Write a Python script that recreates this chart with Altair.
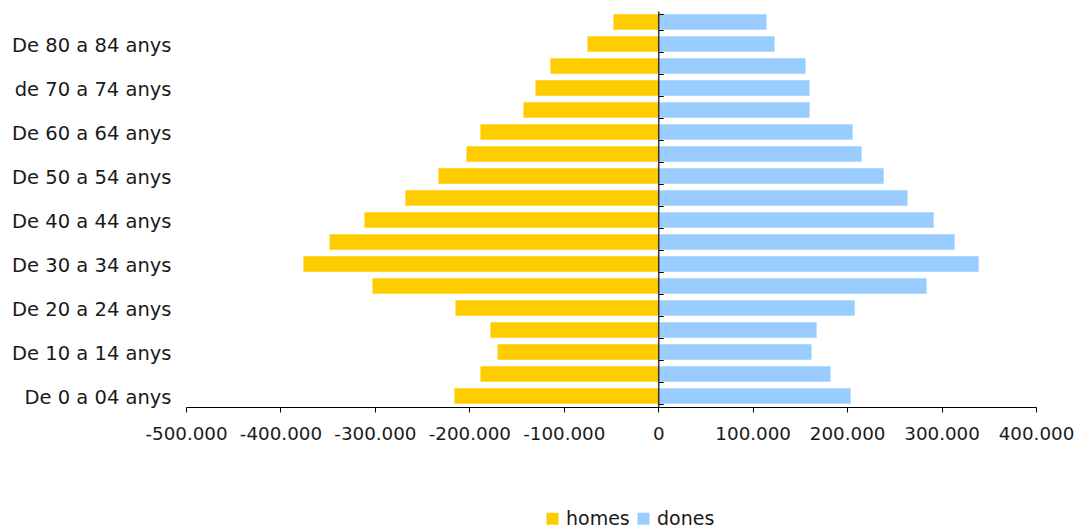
import altair as alt
import pandas as pd

# Age groups, bottom to top
groups = [
    "De 0 a 04 anys", "De 05 a 09 anys", "De 10 a 14 anys", "De 15 a 19 anys",
    "De 20 a 24 anys", "De 25 a 29 anys", "De 30 a 34 anys", "De 35 a 39 anys",
    "De 40 a 44 anys", "De 45 a 49 anys", "De 50 a 54 anys", "De 55 a 59 anys",
    "De 60 a 64 anys", "De 65 a 69 anys", "de 70 a 74 anys", "De 75 a 79 anys",
    "De 80 a 84 anys", "De 85 anys i més",
]
homes = [
    -215800, -188200, -170200, -177600, -214700, -302600, -375700, -348000,
    -311000, -267700, -232700, -203000, -188200, -142700, -130000, -114100,
    -74900, -47400,
]
dones = [
    203700, 182500, 162400, 167700, 208000, 284200, 339300, 313900,
    291600, 264000, 238700, 215400, 205800, 160300, 160300, 156000,
    123200, 114700,
]
shown_labels = groups[::2]
series = ["homes", "dones"]
colors = ["#FFCC00", "#99CCFF"]
x_ticks = [-500000, -400000, -300000, -200000, -100000, 0, 100000, 200000, 300000, 400000]

df = pd.DataFrame({
    "grup": groups + groups,
    "sexe": ["homes"] * len(groups) + ["dones"] * len(groups),
    "valor": homes + dones,
})

FONT = "DejaVu Sans"
TXT = "#1a1a1a"
W, H = 850, 396
y_sort = groups[::-1]
x_scale = alt.Scale(domain=[-500000, 400000], nice=False, zero=False)
y_scale = alt.Scale(paddingInner=0.3, paddingOuter=0.15)
zero_px = (0 - (-500000)) / 900000 * W

label_expr = "(datum.value < 0 ? '-' : '') + replace(format(abs(datum.value), ','), ',', '.')"

x_enc = alt.X(
    "valor:Q", scale=x_scale,
    axis=alt.Axis(
        values=x_ticks, labelExpr=label_expr, title=None, grid=False,
        tickSize=5, tickColor="#000000", domainColor="#000000",
        labelPadding=13, labelFontSize=18.3, labelFont=FONT, labelColor=TXT,
        labelFlush=False, labelOverlap=False,
    ),
)

bars = alt.Chart(df).mark_bar().encode(
    x=x_enc,
    y=alt.Y(
        "grup:N", sort=y_sort, scale=y_scale,
        axis=alt.Axis(
            orient="left", values=shown_labels, title=None, ticks=False, domain=False,
            tickSize=0, labelPadding=15, labelFontSize=19.5, labelFont=FONT, labelColor=TXT,
            labelOverlap=False, labelOffset=2,
        ),
    ),
    color=alt.Color(
        "sexe:N", scale=alt.Scale(domain=series, range=colors),
        legend=alt.Legend(
            orient="none", legendX=357, legendY=498, direction="horizontal",
            title=None, symbolType="square", symbolSize=144, symbolStrokeWidth=0,
            labelFontSize=19, labelFont=FONT, labelColor=TXT, labelOffset=4,
            columnPadding=4,
        ),
    ),
)

zero_axis = alt.Chart(df).mark_bar(opacity=0).encode(
    x=x_enc,
    y=alt.Y(
        "grup:N", sort=y_sort, scale=y_scale,
        axis=alt.Axis(
            orient="right", offset=-(W - zero_px), labels=False, title=None,
            tickBand="extent", tickSize=5, tickColor="#000000",
            domainColor="#333333", domainWidth=1.5, zindex=2,
        ),
    ),
)

chart = (
    alt.layer(bars, zero_axis)
    .resolve_axis(y="independent")
    .properties(
        width=W, height=H,
        autosize=alt.AutoSizeParams(type="none"),
        padding={"left": 178, "top": 3, "right": 38, "bottom": 123},
    )
    .configure(font=FONT)
    .configure_view(stroke=None)
)

chart.save("out.html", embed_options={"renderer": "svg", "actions": False})
